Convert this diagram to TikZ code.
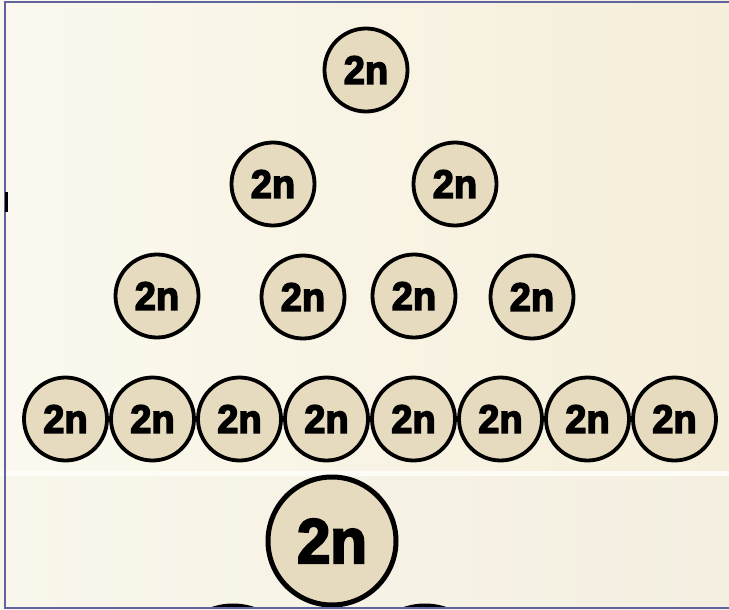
\documentclass[tikz,border=0pt]{standalone}
\usepackage{fontspec}
\setmainfont{Liberation Sans}
\newfontfamily\cellfont{Liberation Sans Bold}[FakeBold=3.5, FakeStretch=0.95]
\definecolor{cellfill}{HTML}{E6DBBE}
\definecolor{frameblue}{HTML}{5F63A0}
\definecolor{bgleft}{HTML}{FBF9EF}
\definecolor{bgright}{HTML}{F5EEDA}
\definecolor{lowleft}{HTML}{F9F6EB}
\definecolor{lowright}{HTML}{F4EFE1}
\tikzset{
  cell/.style={circle, draw=black, fill=cellfill, line width=3.8pt, inner sep=0pt,
    minimum size=83pt, font=\cellfont\fontsize{40}{40}\selectfont},
  bigcell/.style={cell, line width=5pt, minimum size=128pt,
    font=\cellfont\fontsize{63}{63}\selectfont},
}

\begin{document}
\begin{tikzpicture}[x=1pt, y=-1pt]
  \useasboundingbox (0,0) rectangle (729,610);
  % background
  \shade[left color=bgleft, right color=bgright] (0,0) rectangle (729,471);
  \shade[left color=lowleft, right color=lowright] (0,476) rectangle (729,610);
  \fill[white!50!bgleft] (0,471) rectangle (729,476);

  \node[cell] at (366, 70) (top) {2n};

  \node[cell] at (273,184) (m1) {2n};
  \node[cell] at (455,184) (m2) {2n};

  \node[cell] at (157,296) (q1) {2n};
  \node[cell] at (303,297) (q2) {2n};
  \node[cell] at (414,296) (q3) {2n};
  \node[cell] at (532,297) (q4) {2n};

  \node[cell] at ( 65.5,419) (e1) {2n};
  \node[cell] at (152.5,419) (e2) {2n};
  \node[cell] at (239.5,419) (e3) {2n};
  \node[cell] at (326.5,419) (e4) {2n};
  \node[cell] at (413.5,419) (e5) {2n};
  \node[cell] at (500.5,419) (e6) {2n};
  \node[cell] at (587.5,419) (e7) {2n};
  \node[cell] at (674.5,419) (e8) {2n};

  \begin{scope}
    \clip (0,0) rectangle (729,607);
    \node[bigcell] at (233,670) (low1) {};
    \node[bigcell] at (425,670) (low2) {};
    \node[bigcell] at (332,541) (big) {2n};
  \end{scope}

  % frame
  \draw[frameblue, line width=2pt] (729,2.5) -- (4.5,2.5) -- (4.5,607.5) -- (729,607.5);
  \fill[black] (5,192) rectangle (8,212);
\end{tikzpicture}
\end{document}
